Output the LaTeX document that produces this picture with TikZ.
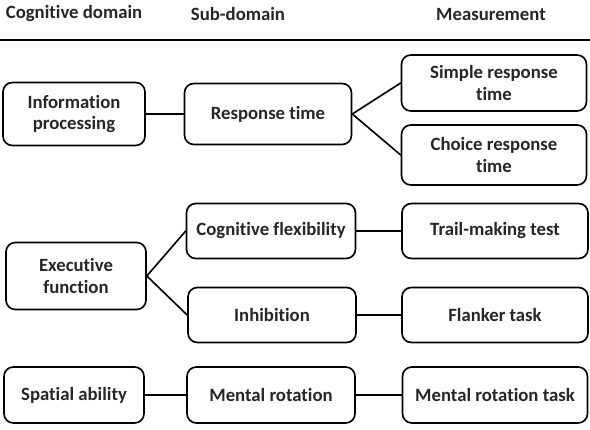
\documentclass[tikz,border=0pt]{standalone}
\usepackage{fontspec}
\setmainfont{Carlito}[Ligatures=NoCommon]
\usepackage{xcolor}
\usepackage{tikz}

\tikzset{
  box/.style={draw=black,line width=1.4pt,rounded corners=8pt,align=center,
    font=\fontsize{16}{18.5}\selectfont\bfseries,text=black!85,inner sep=2pt},
  head/.style={font=\fontsize{16}{18.5}\selectfont\bfseries,text=black!85},
  link/.style={line width=1.4pt,draw=black}
}

\begin{document}
\begin{tikzpicture}[line cap=round,line join=round,x=0.03cm,y=-0.03cm]
		\useasboundingbox (0,0) rectangle (590,430);
		% header
		\node[head] (hcog) at (74,14) {Cognitive domain};
		\node[head] (hsub) at (238,14) {Sub-domain};
		\node[head] (hmeas) at (491,14) {Measurement};
		\draw [line width=2pt] (0,40)-- (590,40);
		% left column
		\node[box,minimum width=4.26cm,minimum height=1.89cm] (info) at (74,114) {Information\\processing};
		\node[box,minimum width=4.2cm,minimum height=2.01cm] (exec) at (76,276) {Executive\\function};
		\node[box,minimum width=4.2cm,minimum height=1.68cm] (spat) at (74,395) {Spatial ability};
		% middle column
		\node[box,minimum width=5.01cm,minimum height=1.83cm] (resp) at (268,114) {Response time};
		\node[box,minimum width=5.07cm,minimum height=1.65cm] (flex) at (271,231) {Cognitive flexibility};
		\node[box,minimum width=5.04cm,minimum height=1.65cm] (inhib) at (272,315) {Inhibition};
		\node[box,minimum width=5.04cm,minimum height=1.68cm] (mrot) at (271,395) {Mental rotation};
		% right column
		\node[box,minimum width=5.55cm,minimum height=1.68cm] (simple) at (494,83) {Simple response\\time};
		\node[box,minimum width=5.55cm,minimum height=1.8cm] (choice) at (494,155) {Choice response\\time};
		\node[box,minimum width=5.58cm,minimum height=1.65cm] (trail) at (495,231) {Trail-making test};
		\node[box,minimum width=5.58cm,minimum height=1.65cm] (flank) at (495,315) {Flanker task};
		\node[box,minimum width=5.55cm,minimum height=1.68cm] (mtask) at (495,395) {Mental rotation task};
		% links
		\draw [link] (info.east)-- (resp.west);
		\draw [link] (resp.east)-- (simple.west);
		\draw [link] (resp.east)-- (choice.west);
		\draw [link] (exec.east)-- (flex.west);
		\draw [link] (exec.east)-- (inhib.west);
		\draw [link] (flex.east)-- (trail.west);
		\draw [link] (inhib.east)-- (flank.west);
		\draw [link] (spat.east)-- (mrot.west);
		\draw [link] (mrot.east)-- (mtask.west);
	\end{tikzpicture}
\end{document}
